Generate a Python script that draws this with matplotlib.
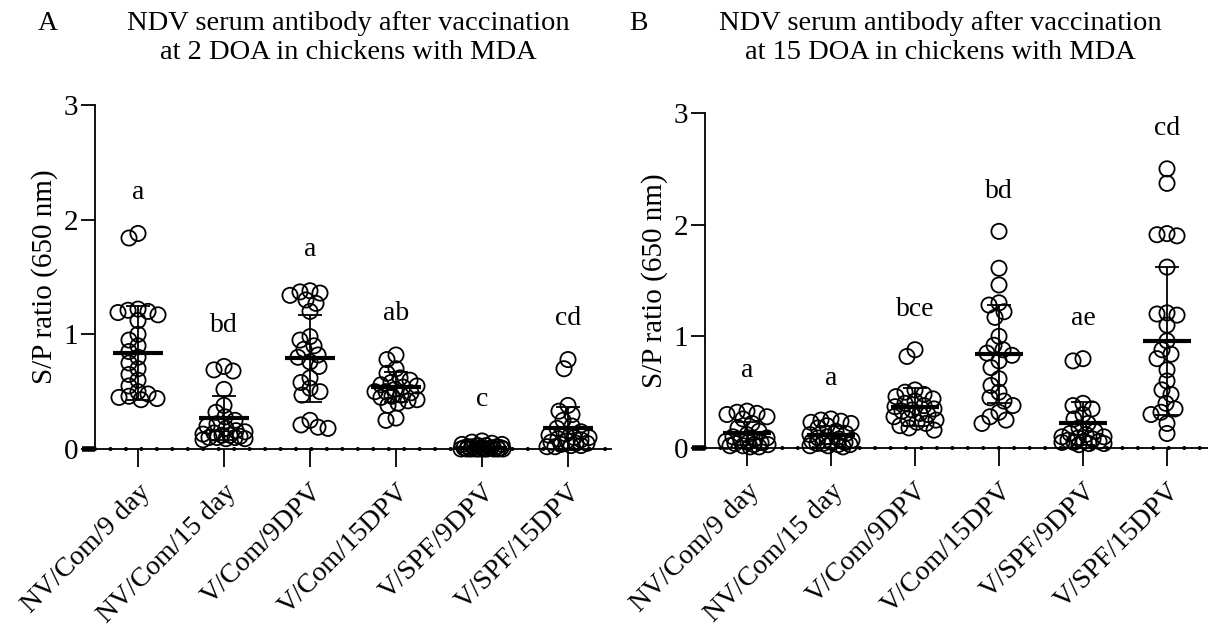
import numpy as np
import matplotlib
matplotlib.use("Agg")
import matplotlib.pyplot as plt

plt.rcParams['font.family'] = ['Liberation Serif', 'DejaVu Serif']

groups = ["NV/Com/9 day", "NV/Com/15 day", "V/Com/9DPV", "V/Com/15DPV", "V/SPF/9DPV", "V/SPF/15DPV"]

# panel A: vaccination at 2 DOA
a1 = [1.88, 1.84, 1.22, 1.21, 1.2, 1.19, 1.17, 1.12, 1.0, 0.95, 0.9, 0.85, 0.8, 0.75, 0.7, 0.65, 0.6, 0.55, 0.5, 0.48, 0.46, 0.45, 0.44, 0.43]
a2 = [0.72, 0.69, 0.68, 0.52, 0.38, 0.32, 0.28, 0.25, 0.22, 0.2, 0.18, 0.16, 0.15, 0.14, 0.13, 0.12, 0.12, 0.11, 0.1, 0.1, 0.1, 0.09, 0.09, 0.08]
a3 = [1.38, 1.37, 1.36, 1.34, 1.3, 1.27, 1.2, 0.98, 0.95, 0.9, 0.87, 0.82, 0.8, 0.76, 0.72, 0.62, 0.58, 0.53, 0.5, 0.47, 0.25, 0.21, 0.19, 0.18]
a4 = [0.82, 0.78, 0.7, 0.66, 0.62, 0.6, 0.58, 0.56, 0.55, 0.54, 0.52, 0.5, 0.5, 0.49, 0.47, 0.46, 0.45, 0.43, 0.42, 0.4, 0.38, 0.27, 0.25]
a5 = [0.07, 0.06, 0.05, 0.04, 0.04, 0.03, 0.03, 0.02, 0.02, 0.02, 0.01, 0.01, 0.01, 0.01, 0.0, 0.0, 0.0, 0.0, 0.0, 0.0, 0.0, 0.0, 0.0, 0.0]
a6 = [0.78, 0.7, 0.38, 0.33, 0.3, 0.25, 0.2, 0.18, 0.15, 0.13, 0.12, 0.1, 0.1, 0.09, 0.08, 0.07, 0.06, 0.05, 0.05, 0.04, 0.03, 0.03, 0.02, 0.02]
mean_a = [0.84, 0.27, 0.79, 0.54, 0.01, 0.18]
sd_a = [0.41, 0.19, 0.38, 0.13, 0.03, 0.19]
letters_a = ["a", "bd", "a", "ab", "c", "cd"]

# panel B: vaccination at 15 DOA
b1 = [0.33, 0.32, 0.31, 0.3, 0.28, 0.26, 0.22, 0.18, 0.15, 0.12, 0.1, 0.09, 0.08, 0.07, 0.06, 0.05, 0.05, 0.04, 0.03, 0.03, 0.02, 0.02, 0.01, 0.01]
b2 = [0.26, 0.25, 0.24, 0.23, 0.22, 0.2, 0.18, 0.15, 0.13, 0.12, 0.1, 0.09, 0.08, 0.07, 0.06, 0.05, 0.05, 0.04, 0.04, 0.03, 0.03, 0.02, 0.02, 0.01]
b3 = [0.88, 0.82, 0.52, 0.5, 0.48, 0.46, 0.44, 0.42, 0.4, 0.38, 0.37, 0.35, 0.34, 0.33, 0.31, 0.3, 0.28, 0.26, 0.25, 0.23, 0.22, 0.2, 0.18, 0.16]
b4 = [1.94, 1.61, 1.46, 1.3, 1.28, 1.22, 1.17, 1.0, 0.92, 0.88, 0.85, 0.83, 0.78, 0.72, 0.62, 0.56, 0.5, 0.45, 0.42, 0.38, 0.32, 0.28, 0.25, 0.22]
b5 = [0.8, 0.78, 0.4, 0.38, 0.35, 0.3, 0.26, 0.22, 0.18, 0.15, 0.13, 0.12, 0.1, 0.1, 0.09, 0.08, 0.07, 0.06, 0.06, 0.05, 0.05, 0.04, 0.04, 0.03]
b6 = [2.5, 2.37, 1.92, 1.91, 1.9, 1.62, 1.21, 1.2, 1.19, 1.1, 0.96, 0.88, 0.84, 0.8, 0.7, 0.6, 0.52, 0.48, 0.4, 0.35, 0.32, 0.3, 0.22, 0.13]
mean_b = [0.13, 0.12, 0.37, 0.84, 0.22, 0.96]
sd_b = [0.10, 0.08, 0.17, 0.44, 0.19, 0.66]
letters_b = ["a", "a", "bce", "bd", "ae", "cd"]


def swarm(ax, x0, vals, d=10.0, maxw=21.0):
    # simple beeswarm in pixel space, points overlap when crowded
    t = ax.transData
    ppx = t.transform((1, 0))[0] - t.transform((0, 0))[0]
    ppy = t.transform((0, 1))[1] - t.transform((0, 0))[1]
    cands = sorted(np.arange(-maxw, maxw + 0.1, 1.0), key=lambda c: (abs(c), c))
    placed = []
    xs = []
    for v in vals:
        yv = v * ppy
        best, bestd = 0.0, -1.0
        for c in cands:
            md = min([np.hypot(c - px, yv - py) for px, py in placed], default=1e9)
            if md >= d:
                best = c
                break
            if md > bestd:
                bestd, best = md, c
        placed.append((best, yv))
        xs.append(x0 + best / ppx)
    return xs


def panel(ax, data, means, sds, letters):
    ax.set_xlim(-0.5, 5.5)
    ax.set_ylim(0, 3)
    for i, vals in enumerate(data):
        xs = swarm(ax, i, vals)
        ax.scatter(xs, vals, s=120, facecolors='none', edgecolors='black',
                   linewidths=1.3, clip_on=False, zorder=3)
        ax.plot([i - 0.29, i + 0.29], [means[i], means[i]], color='black', lw=3,
                solid_capstyle='butt', clip_on=False, zorder=4)
        ax.errorbar(i, means[i], yerr=sds[i], fmt='none', ecolor='black',
                    elinewidth=1.3, capsize=8.5, capthick=1.3, clip_on=False, zorder=4)
        ax.text(i, max(vals) + 0.36, letters[i], ha='center', va='center', fontsize=20)
    # baseline with dots
    ax.axhline(0, color='black', lw=1.3, zorder=2, clip_on=False)
    ax.axhline(0, color='black', lw=3, linestyle=(0, (0.01, 3.7)),
               dash_capstyle='round', zorder=2, clip_on=False)
    ax.spines['top'].set_visible(False)
    ax.spines['right'].set_visible(False)
    ax.spines['bottom'].set_visible(False)
    ax.spines['left'].set_linewidth(1.3)
    ax.set_yticks([0, 1, 2, 3])
    ax.tick_params(axis='y', length=10, width=1.3, labelsize=21, pad=2)
    ax.set_xticks(range(len(groups)))
    ax.set_xticklabels(groups, rotation=45, ha='right', rotation_mode='anchor', fontsize=20)
    ax.tick_params(axis='x', length=13, width=1.3, pad=9)
    ax.set_ylabel("S/P ratio (650 nm)", fontsize=21, labelpad=4)
    # thick zero tick
    ax.plot([-0.5 - 13 / 86, -0.5], [0, 0], color='black', lw=4, clip_on=False,
            solid_capstyle='butt', zorder=5)


fig = plt.figure(figsize=(12.08, 6.27), dpi=100)
ax_a = fig.add_axes([95 / 1208, 1 - 449 / 627, 516 / 1208, 344 / 627])
ax_b = fig.add_axes([705 / 1208, 1 - 448 / 627, 504 / 1208, 335 / 627])

panel(ax_a, [a1, a2, a3, a4, a5, a6], mean_a, sd_a, letters_a)
panel(ax_b, [b1, b2, b3, b4, b5, b6], mean_b, sd_b, letters_b)

fig.text(48 / 1208, 1 - 24 / 627, "A", fontsize=20, ha='center', va='center')
fig.text(348 / 1208, 1 - 38 / 627, "NDV serum antibody after vaccination\nat 2 DOA in chickens with MDA",
         fontsize=20.5, ha='center', va='center', linespacing=1.25)
fig.text(638 / 1208, 1 - 24 / 627, "B", fontsize=20, ha='center', va='center')
fig.text(940 / 1208, 1 - 38 / 627, "NDV serum antibody after vaccination\nat 15 DOA in chickens with MDA",
         fontsize=20.5, ha='center', va='center', linespacing=1.25)

fig.savefig("out.png", dpi=100)
